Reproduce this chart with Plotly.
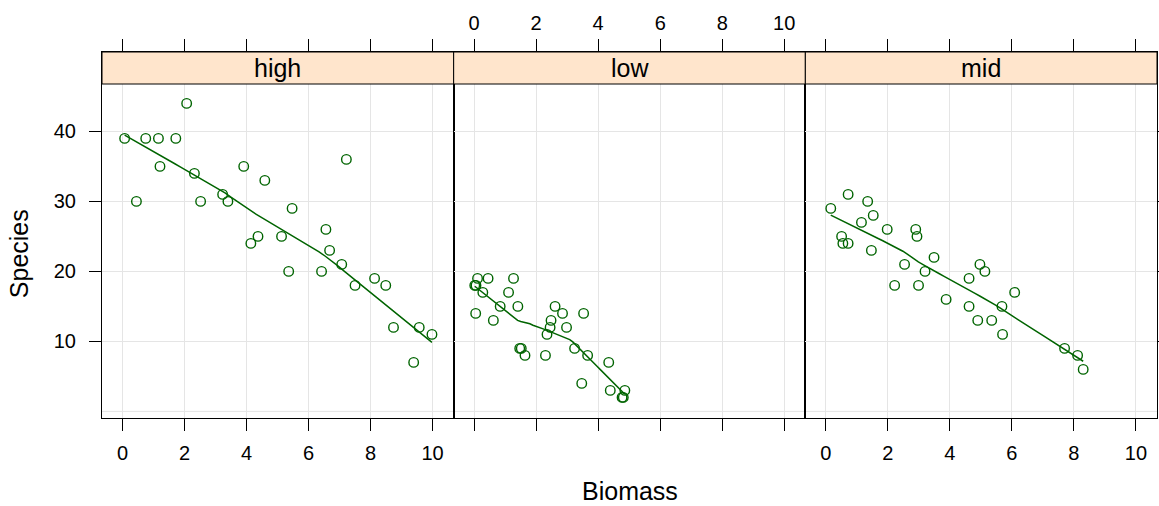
import numpy as np
import plotly.graph_objects as go
from plotly.subplots import make_subplots

# ---------------- data ----------------
panels = ["high", "low", "mid"]

high_biomass = [0.07, 0.45, 0.75, 1.16, 1.21, 1.72, 2.07, 2.32, 2.52, 3.23,
                3.40, 3.91, 4.14, 4.37, 4.59, 5.13, 5.36, 5.47, 6.42, 6.56,
                6.68, 7.22, 7.07, 7.50, 8.13, 8.49, 8.74, 9.57, 9.98, 9.39]
high_species = [39, 30, 39, 39, 35, 39, 44, 34, 30, 31,
                30, 35, 24, 25, 33, 25, 20, 29, 20, 26,
                23, 36, 21, 18, 19, 18, 12, 12, 11, 7]

low_biomass = [0.11, 0.45, 1.27, 0.02, 0.06, 0.28, 1.11, 0.05, 0.84, 1.41,
               0.62, 1.47, 1.52, 1.64, 2.30, 2.61, 2.85, 2.48, 2.45, 2.35,
               2.98, 3.53, 3.24, 3.66, 3.47, 4.34, 4.39, 4.86, 4.77, 4.81]
low_species = [19, 19, 19, 18, 18, 17, 17, 14, 15, 15,
               13, 9, 9, 8, 8, 15, 14, 13, 12, 11,
               12, 14, 9, 8, 4, 7, 3, 3, 2, 2]

mid_biomass = [0.16, 0.72, 1.35, 1.53, 1.15, 1.98, 2.90, 2.94, 0.51, 0.55,
               0.72, 1.47, 3.49, 2.54, 3.20, 2.22, 2.99, 4.97, 5.13, 4.62,
               6.09, 3.88, 4.62, 5.68, 4.90, 5.35, 5.70, 7.70, 8.12, 8.30]
mid_species = [29, 31, 30, 28, 27, 26, 26, 25, 25, 24,
               24, 23, 22, 21, 20, 18, 18, 21, 20, 19,
               17, 16, 15, 15, 13, 13, 11, 9, 8, 6]

x_ticks = [0, 2, 4, 6, 8, 10]
y_ticks = [10, 20, 30, 40]

# ---------------- loess smoother (span 2/3, degree 1, symmetric) ----------------
def loess_smooth(x, y, span=2/3, iterations=4, n_eval=50):
    x = np.asarray(x, float)
    y = np.asarray(y, float)
    n = len(x)
    q = int(np.floor(n * span))
    rob = np.ones(n)

    def fit_at(x0, rw):
        d = np.abs(x - x0)
        ds = np.sort(d)
        h = max(ds[q - 1], 1e-12) * 1.0000001
        u = np.clip(d / h, 0, 1)
        w = (1 - u ** 3) ** 3 * rw
        sw = w.sum()
        xm = (w * x).sum() / sw
        ym = (w * y).sum() / sw
        sxx = (w * (x - xm) ** 2).sum()
        b = (w * (x - xm) * (y - ym)).sum() / sxx if sxx > 0 else 0.0
        return ym + b * (x0 - xm)

    for it in range(iterations):
        fitted = np.array([fit_at(xi, rob) for xi in x])
        if it == iterations - 1:
            break
        res = y - fitted
        s = np.median(np.abs(res))
        if s == 0:
            break
        u = np.clip(res / (6 * s), -1, 1)
        rob = (1 - u ** 2) ** 2
    xs = np.linspace(x.min(), x.max(), n_eval)
    ys = np.array([fit_at(xi, rob) for xi in xs])
    return xs, ys

# ---------------- figure ----------------
W, H = 1159, 506
ML, MR, MT, MB = 102, 2, 52, 88
plot_h = H - MT - MB
plot_w = W - ML - MR
x_range = [-0.66, 10.68]
y_bot = -0.94
y_top = y_bot + plot_h / 7.0
strip_px = 32
strip_frac = 1 - strip_px / plot_h

green = "#006400"
grid = "#E5E5E5"
font_family = "Liberation Sans, Arial, Helvetica, sans-serif"

fig = make_subplots(rows=1, cols=3, horizontal_spacing=0)

data = [(high_biomass, high_species), (low_biomass, low_species), (mid_biomass, mid_species)]
for i, (bx, sy) in enumerate(data):
    col = i + 1
    fig.add_trace(go.Scatter(x=bx, y=sy, mode="markers",
                             marker=dict(symbol="circle-open", size=9.5, color=green,
                                         line=dict(width=1.4, color=green)),
                             showlegend=False, hoverinfo="x+y"), row=1, col=col)
    lx, ly = loess_smooth(bx, sy)
    fig.add_trace(go.Scatter(x=lx, y=ly, mode="lines",
                             line=dict(color=green, width=1.5),
                             showlegend=False, hoverinfo="skip"), row=1, col=col)

for i in range(3):
    ax = "" if i == 0 else str(i + 1)
    xa = dict(range=x_range, tickvals=x_ticks, ticks="outside", ticklen=12, tickwidth=1,
              tickcolor="black", showline=True, linecolor="black", linewidth=1,
              mirror="ticks", showgrid=True, gridcolor=grid, gridwidth=1, zeroline=False,
              tickfont=dict(size=20, color="black", family=font_family),
              domain=[i / 3, (i + 1) / 3], fixedrange=True, automargin=False,
              ticklabelstandoff=5)
    if i == 1:
        xa["side"] = "top"
        xa["ticklabelstandoff"] = 1
    fig.layout["xaxis" + ax].update(xa)

    ya = dict(range=[y_bot, y_top], tickvals=y_ticks, showline=True, linecolor="black",
              linewidth=1, mirror=True, showgrid=True, gridcolor=grid, gridwidth=1,
              zeroline=False, tickfont=dict(size=20, color="black", family=font_family),
              fixedrange=True, automargin=False)
    if i == 0:
        ya.update(ticks="outside", ticklen=12, tickwidth=1, tickcolor="black",
                  showticklabels=True, ticklabelstandoff=9)
    elif i == 1:
        ya.update(ticks="", showticklabels=False)
    else:
        ya.update(side="right", ticks="outside", ticklen=12, tickwidth=1, tickcolor="black",
                  showticklabels=False)
    fig.layout["yaxis" + ax].update(ya)

    # y = 0 reference grid line
    fig.add_shape(type="line", xref=f"x{ax} domain", x0=0, x1=1, yref=f"y{ax}", y0=0, y1=0,
                  line=dict(color=grid, width=1), layer="below")
    # strip
    fig.add_shape(type="rect", xref=f"x{ax} domain", x0=0, x1=1,
                  yref=f"y{ax} domain", y0=strip_frac, y1=1,
                  fillcolor="#FFE5CC", line=dict(color="black", width=1), layer="above")
    fig.add_annotation(text=panels[i], xref=f"x{ax} domain", x=0.5,
                       yref=f"y{ax} domain", y=(strip_frac + 1) / 2,
                       showarrow=False, xanchor="center", yanchor="middle",
                       font=dict(size=25, color="black", family=font_family))

fig.add_annotation(text="Biomass", xref="paper", x=0.5, yref="paper",
                   y=-(H - (H - MB)) / plot_h, showarrow=False,
                   xanchor="center", yanchor="bottom", borderpad=0,
                   font=dict(size=25, color="black", family=font_family))
fig.add_annotation(text="Species", xref="paper", x=-(ML - 19.2) / plot_w,
                   yref="paper", y=(H - MB - 254) / plot_h, textangle=-90,
                   showarrow=False, xanchor="center", yanchor="middle",
                   font=dict(size=25, color="black", family=font_family))

fig.update_layout(width=W, height=H, margin=dict(l=ML, r=MR, t=MT, b=MB, pad=0, autoexpand=False),
                  paper_bgcolor="white", plot_bgcolor="white",
                  font=dict(family=font_family, color="black"))

fig.write_html("out.html", config={"displayModeBar": False})
